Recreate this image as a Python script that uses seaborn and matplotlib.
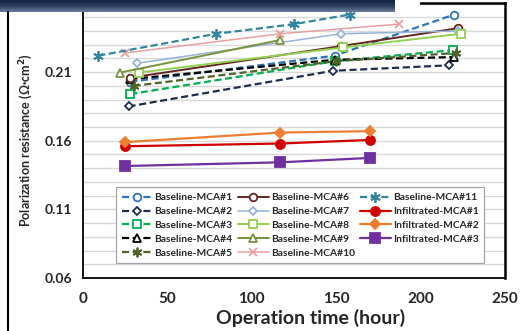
import numpy as np
import pandas as pd
import matplotlib
matplotlib.use("Agg")
import matplotlib.pyplot as plt
from matplotlib.ticker import MultipleLocator, FixedLocator
from matplotlib.lines import Line2D
from matplotlib.patches import Rectangle
import seaborn as sns

# ---- data: operation time (h) and polarization resistance (ohm*cm2) ----
series_names = [
    "Baseline-MCA#1", "Baseline-MCA#2", "Baseline-MCA#3", "Baseline-MCA#4",
    "Baseline-MCA#5", "Baseline-MCA#6", "Baseline-MCA#7", "Baseline-MCA#8",
    "Baseline-MCA#9", "Baseline-MCA#10", "Baseline-MCA#11",
    "Infiltrated-MCA#1", "Infiltrated-MCA#2", "Infiltrated-MCA#3",
]

hours_b1 = [28, 149, 220]
rp_b1 = [0.203, 0.222, 0.252]
hours_b2 = [27, 148, 217]
rp_b2 = [0.185, 0.211, 0.215]
hours_b3 = [28, 149, 219]
rp_b3 = [0.194, 0.218, 0.226]
hours_b4 = [28, 149, 220]
rp_b4 = [0.205, 0.219, 0.221]
hours_b5 = [30, 150, 221]
rp_b5 = [0.200, 0.218, 0.224]
hours_b6 = [28, 153, 222]
rp_b6 = [0.206, 0.229, 0.242]
hours_b7 = [32, 153, 222]
rp_b7 = [0.2165, 0.238, 0.240]
hours_b8 = [33, 154, 224]
rp_b8 = [0.2097, 0.228, 0.238]
hours_b9 = [22, 117]
rp_b9 = [0.2097, 0.2335]
hours_b10 = [25, 117, 187]
rp_b10 = [0.224, 0.238, 0.245]
hours_b11 = [9, 79, 125, 158]
rp_b11 = [0.222, 0.238, 0.245, 0.252]
hours_i1 = [25, 117, 170]
rp_i1 = [0.156, 0.158, 0.1606]
hours_i2 = [25, 117, 170]
rp_i2 = [0.159, 0.166, 0.167]
hours_i3 = [25, 117, 170]
rp_i3 = [0.1416, 0.1443, 0.1475]

x_ticks = [0, 50, 100, 150, 200, 250]
y_ticks = [0.06, 0.11, 0.16, 0.21]

all_hours = [hours_b1, hours_b2, hours_b3, hours_b4, hours_b5, hours_b6,
             hours_b7, hours_b8, hours_b9, hours_b10, hours_b11,
             hours_i1, hours_i2, hours_i3]
all_rp = [rp_b1, rp_b2, rp_b3, rp_b4, rp_b5, rp_b6, rp_b7, rp_b8, rp_b9,
          rp_b10, rp_b11, rp_i1, rp_i2, rp_i3]

frames = [pd.DataFrame({"series": n, "hour": h, "rp": r})
          for n, h, r in zip(series_names, all_hours, all_rp)]
df = pd.concat(frames, ignore_index=True)

# ---- styling per series ----
dash = (0, (3.2, 1.6))
asterisk = (6, 2, 0)
styles = {
    "Baseline-MCA#1":  dict(color="#2E75B6", marker="o", ls=dash, lw=1.6, open=True, ms=5.5),
    "Baseline-MCA#2":  dict(color="#1F2D4D", marker="D", ls=dash, lw=1.6, open=True, ms=4.5),
    "Baseline-MCA#3":  dict(color="#00B050", marker="s", ls=dash, lw=1.6, open=True, ms=5.5),
    "Baseline-MCA#4":  dict(color="#000000", marker="^", ls=dash, lw=1.6, open=True, ms=5.5),
    "Baseline-MCA#5":  dict(color="#4F6228", marker=asterisk, ls=dash, lw=1.6, open=False, ms=7),
    "Baseline-MCA#6":  dict(color="#632523", marker="o", ls="-", lw=1.4, open=True, ms=5.5),
    "Baseline-MCA#7":  dict(color="#95B3D7", marker="D", ls="-", lw=1.1, open=True, ms=4.5),
    "Baseline-MCA#8":  dict(color="#92D050", marker="s", ls="-", lw=1.4, open=True, ms=5.5),
    "Baseline-MCA#9":  dict(color="#77933C", marker="^", ls="-", lw=1.4, open=True, ms=5.5),
    "Baseline-MCA#10": dict(color="#E6A0A0", marker="x", ls="-", lw=1.1, open=False, ms=5.5),
    "Baseline-MCA#11": dict(color="#31859C", marker=asterisk, ls=dash, lw=1.6, open=False, ms=7.5),
    "Infiltrated-MCA#1": dict(color="#D00000", marker="o", ls="-", lw=1.6, open=False, ms=6.5),
    "Infiltrated-MCA#2": dict(color="#ED7D31", marker="D", ls="-", lw=1.6, open=False, ms=5),
    "Infiltrated-MCA#3": dict(color="#7030A0", marker="s", ls="-", lw=1.6, open=False, ms=6.5),
}

sns.set_style("white")
plt.rcParams["font.family"] = ["Lato", "DejaVu Sans"]
plt.rcParams["font.weight"] = "bold"

fig = plt.figure(figsize=(5.2, 3.31), dpi=100)
ax = fig.add_axes([83 / 520, 53 / 331, 422 / 520, 275 / 331])

handles = []
for name in series_names:
    st = styles[name]
    sub = df[df["series"] == name]
    sns.lineplot(data=sub, x="hour", y="rp", ax=ax, sort=False,
                 estimator=None, errorbar=None, color=st["color"],
                 marker=st["marker"], markersize=st["ms"],
                 markerfacecolor="white" if st["open"] else st["color"],
                 markeredgecolor=st["color"], markeredgewidth=1.3,
                 linewidth=st["lw"], linestyle=st["ls"], zorder=3)
    line = ax.lines[-1]
    line.set_label(name)
    handles.append(line)

ax.set_xlim(0, 250)
ax.set_ylim(0.06, 0.2604)
ax.xaxis.set_major_locator(FixedLocator(x_ticks))
ax.yaxis.set_major_locator(FixedLocator(y_ticks))
ax.yaxis.set_minor_locator(MultipleLocator(0.01))
ax.set_xticklabels([str(t) for t in x_ticks])
ax.set_yticklabels([f"{t:.2f}" for t in y_ticks])
ax.grid(True, axis="y", which="both", color="#D9D9D9", linewidth=1.0, zorder=0)
ax.set_axisbelow(True)
ax.tick_params(axis="both", which="major", length=4, width=0.8,
               color="#888888", labelsize=10, pad=4)
ax.tick_params(axis="x", which="major", labelsize=11, pad=6)
ax.tick_params(axis="y", which="minor", length=0)
for lab in ax.get_xticklabels() + ax.get_yticklabels():
    lab.set_fontweight("bold")

for side in ["left", "bottom"]:
    ax.spines[side].set_color("black")
    ax.spines[side].set_linewidth(1.3)
for side in ["top", "right"]:
    ax.spines[side].set_color("black")
    ax.spines[side].set_linewidth(1.8)

ax.set_xlabel("Operation time (hour)", fontsize=14, fontweight="bold",
              labelpad=2, x=0.54)
ax.set_ylabel("Polarization resistance (\u03a9\u00b7cm$^\\mathbf{2}$)",
              fontsize=9.0, fontweight="bold", labelpad=7)

leg = ax.legend(handles=handles, ncol=3, loc="lower left",
                bbox_to_anchor=(0.066, 0.035), fontsize=7.4, frameon=True,
                fancybox=False, edgecolor="#A6A6A6", framealpha=1,
                handlelength=3.0, handletextpad=0.2, columnspacing=0.5,
                labelspacing=0.45, borderpad=0.55)
leg.get_frame().set_linewidth(0.9)
for t in leg.get_texts():
    t.set_fontweight("bold")

# header strip and side rule of the slide panel
banner = fig.add_axes([0, 1 - 12 / 331, 395 / 520, 12 / 331])
grad = np.linspace(0, 1, 50).reshape(-1, 1)
banner.imshow(grad, aspect="auto", extent=(0, 1, 0, 1), origin="upper",
              cmap=matplotlib.colors.LinearSegmentedColormap.from_list(
                  "hdr", ["#13233F", "#2B3E5E", "#6C7F9C"]))
banner.set_axis_off()
fig.add_artist(Rectangle((395 / 520, 1 - 12 / 331), 25 / 520, 12 / 331,
                         transform=fig.transFigure, facecolor="white",
                         edgecolor="none", zorder=10))
fig.add_artist(Line2D([8 / 520, 8 / 520], [0, 1 - 12 / 331],
                      transform=fig.transFigure, color="black", linewidth=1.5))

fig.savefig("out.png", dpi=100)
